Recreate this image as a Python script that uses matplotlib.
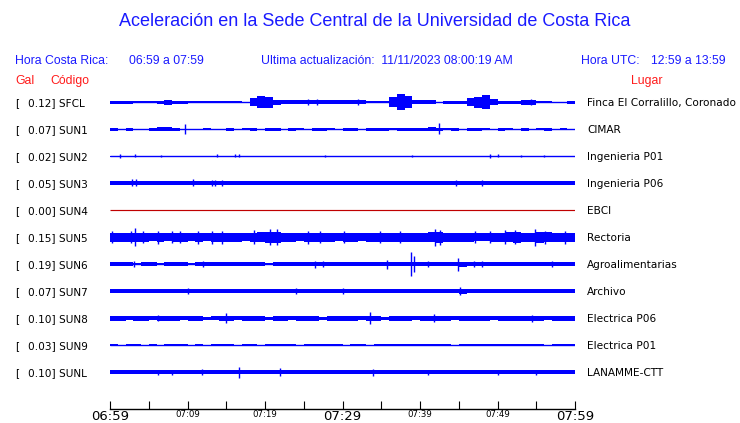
import numpy as np
import matplotlib
matplotlib.use("Agg")
import matplotlib.pyplot as plt

# ---------------- data ----------------
stations = ["SFCL", "SUN1", "SUN2", "SUN3", "SUN4", "SUN5", "SUN6", "SUN7", "SUN8", "SUN9", "SUNL"]
peak_gal = [0.12, 0.07, 0.02, 0.05, 0.00, 0.15, 0.19, 0.07, 0.10, 0.03, 0.10]
places = ["Finca El Corralillo, Coronado", "CIMAR", "Ingenieria P01", "Ingenieria P06", "EBCI",
          "Rectoria", "Agroalimentarias", "Archivo", "Electrica P06", "Electrica P01", "LANAMME-CTT"]

# minutes after 06:59 ; tick labels every 5 minutes
tick_minutes = list(range(0, 61, 5))
tick_labels = ["06:59", "", "07:09", "", "07:19", "", "07:29", "", "07:39", "", "07:49", "", "07:59"]
big_labels = ["06:59", "07:29", "07:59"]

# envelope half-amplitude per minute (pixel units)
env_SFCL = [1.5, 1.5, 1.5, 1.0, 1.2, 1.2, 1.5, 2.5, 1.5, 1.5, 1.0, 1.0, 0.8, 1.2, 1.2, 1.0, 1.2, 0.5,
            4.0, 6.0, 5.5, 2.5,
            1.8, 1.8, 1.8, 1.8, 2.2, 1.8, 1.8, 1.8, 1.8, 1.8, 1.8,
            0.8, 1.0, 0.8,
            5.0, 7.5, 6.0,
            1.8, 1.8, 1.8,
            0.5, 1.5, 1.5, 1.5,
            4.0, 5.5, 7.0, 3.0,
            1.5, 1.5, 1.5,
            2.5, 2.5,
            1.0, 1.2, 0.5, 0.5,
            1.5]
env_SUN1 = [1.5, 0.5, 1.5, 0.5, 0.5, 1.5, 2.0, 2.0, 1.5, 0.5, 0.5, 0.5, 1.0, 0.5, 0.5, 1.5, 0.5, 1.0, 1.5, 0.5,
            1.5, 1.5, 0.5, 1.5, 1.0, 0.5, 1.5, 1.5, 1.0, 0.5, 1.5, 1.5, 0.5, 1.5, 1.5, 1.5, 1.0, 1.5, 1.5, 1.5,
            1.5, 2.0, 1.5, 1.0, 1.5, 0.5, 1.5, 1.5, 1.0, 0.5, 1.5, 1.0, 0.5, 1.5, 0.5, 1.0, 1.5, 0.5, 1.0, 0.5]
env_SUN2 = [0.5] * 60
env_SUN3 = [2.0] * 60
env_SUN4 = [0.0] * 60
env_SUN5 = [4.5, 4.5, 4.5, 4.5, 4.5, 4.0, 4.5, 4.0, 4.5, 4.5, 4.0, 4.5, 4.0, 4.5, 4.5, 4.5, 4.5, 4.0, 4.5, 5.0,
            5.5, 5.5, 4.5, 4.5, 4.0, 4.5, 4.5, 4.5, 4.5, 4.0, 4.5, 4.5, 4.0, 4.5, 4.5, 4.5, 4.5, 4.5, 4.5, 4.5,
            4.5, 5.0, 5.5, 4.5, 4.5, 4.5, 4.5, 4.0, 4.0, 4.5, 4.5, 5.0, 5.5, 4.5, 4.5, 5.5, 5.0, 4.5, 4.5, 4.5]
env_SUN6 = [1.6, 1.6, 1.6, 1.0, 1.6, 1.6, 0.8, 1.6, 1.6, 1.6, 1.2, 1.6, 1.6, 1.6, 1.6, 1.6, 1.6, 1.6, 1.6, 1.6,
            1.0, 1.6, 1.6, 1.6, 1.6, 1.6, 1.6, 1.6, 1.6, 1.6, 1.6, 1.6, 1.6, 1.6, 1.6, 1.6, 2.0, 2.0, 1.6, 1.6,
            1.6, 1.6, 1.6, 1.6, 1.6, 2.5, 1.6, 1.6, 1.6, 1.6, 1.6, 1.6, 1.6, 1.6, 1.6, 1.6, 1.6, 1.6, 1.6, 1.6]
env_SUN7 = [2.0, 2.0, 2.2, 2.0, 2.0, 2.2, 2.0, 2.0, 2.0, 2.2, 2.0, 2.0, 2.2, 2.0, 2.0, 2.0, 2.2, 2.0, 2.0, 2.2,
            2.0, 2.0, 2.2, 2.0, 2.0, 2.2, 2.0, 2.0, 2.0, 2.2, 2.0, 2.0, 2.2, 2.0, 2.0, 2.0, 2.2, 2.0, 2.0, 2.2,
            2.0, 2.0, 2.2, 2.0, 2.0, 2.5, 2.0, 2.0, 2.2, 2.0, 2.0, 2.2, 2.0, 2.0, 2.0, 2.2, 2.0, 2.0, 2.2, 2.0]
env_SUN8 = [2.5, 2.5, 2.0, 2.5, 2.5, 2.0, 2.5, 2.5, 2.5, 2.0, 2.5, 2.5, 1.5, 2.0, 2.5, 2.5, 2.0, 2.5, 2.5, 2.5,
            1.5, 2.5, 2.5, 2.0, 2.5, 2.5, 2.5, 1.5, 2.5, 2.5, 2.5, 2.5, 2.0, 2.5, 2.5, 1.5, 2.5, 2.5, 2.5, 2.0,
            2.5, 2.5, 2.5, 2.5, 2.0, 2.5, 2.5, 2.5, 2.5, 2.0, 2.5, 2.5, 2.5, 2.5, 2.5, 2.5, 2.0, 2.5, 2.5, 2.5]
env_SUN9 = [1.2, 0.5, 1.2, 1.2, 0.5, 1.2, 0.5, 1.2, 1.2, 1.2, 0.5, 1.2, 0.5, 1.2, 1.2, 1.2, 0.5, 1.2, 1.2, 0.5,
            1.2, 1.2, 1.2, 1.2, 0.5, 1.2, 1.2, 1.2, 1.2, 1.2, 0.5, 1.2, 1.2, 0.5, 1.2, 1.2, 1.2, 1.2, 1.2, 1.2,
            1.2, 1.2, 1.2, 1.2, 0.5, 1.2, 1.2, 1.2, 1.2, 1.2, 1.2, 1.2, 1.2, 1.2, 1.2, 1.2, 0.5, 1.2, 1.2, 1.2]
env_SUNL = [2.0] * 60

# isolated spikes: (minute, half-amplitude in px)
spk_SFCL = [(25.5, 3.0), (26.7, 3.0), (32.0, 3.0), (54.3, 3.0)]
spk_SUN1 = [(9.7, 5.0), (42.5, 5.5)]
spk_SUN2 = [(1.3, 2.0), (3.2, 1.5), (6.6, 1.2), (13.8, 1.5), (16.1, 1.5), (16.7, 1.5), (27.7, 1.2),
            (39.0, 1.2), (49.0, 2.0), (50.0, 1.5), (53.0, 1.2), (56.0, 1.2)]
spk_SUN3 = [(2.9, 3.5), (3.3, 3.5), (10.7, 3.5), (13.2, 3.0), (13.6, 3.0), (14.5, 3.0), (44.6, 3.0), (48.0, 3.0)]
spk_SUN4 = []
spk_SUN5 = [(0.2, 6.0), (2.7, 6.0), (3.2, 9.0), (4.2, 6.0), (6.2, 6.5), (8.0, 6.0), (9.0, 6.0),
            (11.4, 6.5), (13.2, 6.5), (14.5, 6.5), (18.6, 7.0), (20.6, 8.0), (21.5, 8.0), (25.5, 6.5),
            (27.1, 6.0), (30.2, 6.0), (34.8, 6.0), (37.4, 6.0), (41.9, 8.5), (42.6, 7.5), (47.1, 6.0),
            (49.0, 6.0), (51.0, 7.0), (52.3, 7.0), (54.8, 8.5), (56.1, 6.5), (58.7, 6.5)]
spk_SUN6 = [(3.1, 3.0), (12.0, 3.0), (26.4, 3.5), (27.5, 3.0), (35.8, 4.5), (38.9, 12.0), (39.2, 8.0),
            (41.0, 3.0), (44.9, 6.5), (47.0, 3.0), (48.0, 3.0), (57.0, 3.0)]
spk_SUN7 = [(10.0, 3.0), (24.0, 3.0), (30.0, 3.0), (45.2, 4.0)]
spk_SUN8 = [(6.2, 3.0), (15.0, 5.0), (33.5, 6.0), (41.8, 4.0), (54.5, 3.5)]
spk_SUN9 = []
spk_SUNL = [(6.2, 2.5), (8.0, 2.5), (11.9, 3.0), (16.6, 5.5), (21.9, 4.0), (33.9, 3.5), (41.0, 2.5),
            (50.0, 2.5), (55.0, 2.5)]

envelopes = [env_SFCL, env_SUN1, env_SUN2, env_SUN3, env_SUN4, env_SUN5,
             env_SUN6, env_SUN7, env_SUN8, env_SUN9, env_SUNL]
spikes = [spk_SFCL, spk_SUN1, spk_SUN2, spk_SUN3, spk_SUN4, spk_SUN5,
          spk_SUN6, spk_SUN7, spk_SUN8, spk_SUN9, spk_SUNL]

# ---------------- figure ----------------
W, H = 740, 423
fig = plt.figure(figsize=(W / 100, H / 100), dpi=100)
BLUE = "#0000ff"
TBLUE = "#1a1aff"
RED = "#ff1a1a"

ax_left, ax_right = 110, 575
ax_top, ax_bot = 88, 409
ax = fig.add_axes([ax_left / W, (H - ax_bot) / H, (ax_right - ax_left) / W, (ax_bot - ax_top) / H])
ax.set_xlim(0, 60)
ax.set_ylim(ax_bot, ax_top)   # y in pixel units, downward

row0, row_step = 102, 27
edges = np.arange(0, 61)
for i, (env, spk) in enumerate(zip(envelopes, spikes)):
    yc = row0 + i * row_step
    is_flat = stations[i] == "SUN4"
    color = "#c00000" if is_flat else BLUE
    ax.plot([0, 60], [yc, yc], color=color, lw=0.85 if is_flat else 1.0, solid_capstyle="butt")
    e = np.array(env + [env[-1]], dtype=float)
    ax.fill_between(edges, yc - e, yc + e, step="post", color=color, lw=0)
    for (t, a) in spk:
        ax.vlines(t, yc - a, yc + a, color=color, lw=1.0)
    # left label
    fig.text(15 / W, 1 - (yc + 1) / H, "[", fontsize=7.6, family="DejaVu Sans", va="center", ha="left")
    fig.text(28 / W, 1 - (yc + 1) / H, f"{peak_gal[i]:.2f}] {stations[i]}", fontsize=7.6,
             family="DejaVu Sans", va="center", ha="left")
    fig.text(587 / W, 1 - (yc + 1) / H, places[i], fontsize=7.6, family="DejaVu Sans",
             va="center", ha="left")

for s in ["top", "left", "right"]:
    ax.spines[s].set_visible(False)
ax.spines["bottom"].set_linewidth(1.0)
ax.set_yticks([])
ax.set_xticks(tick_minutes)
ax.set_xticklabels(tick_labels)
ax.tick_params(axis="x", direction="in", length=5.8, width=0.8, pad=0.5)
for lab in ax.get_xticklabels():
    lab.set_family("DejaVu Sans")
    lab.set_fontsize(9.5 if lab.get_text() in big_labels else 6.2)

# header texts
hfont = dict(family="Liberation Sans", fontsize=8.85, color=TBLUE, va="center")
fig.text(375 / W, 1 - 22 / H, "Aceleración en la Sede Central de la Universidad de Costa Rica",
         family="Liberation Sans", fontsize=13, color=TBLUE, ha="center", va="center")
fig.text(15 / W, 1 - 61 / H, "Hora Costa Rica:", ha="left", **hfont)
fig.text(129 / W, 1 - 61 / H, "06:59 a 07:59", ha="left", **hfont)
fig.text(261 / W, 1 - 61 / H, "Ultima actualización:  11/11/2023 08:00:19 AM", ha="left", **hfont)
fig.text(581 / W, 1 - 61 / H, "Hora UTC:", ha="left", **hfont)
fig.text(651 / W, 1 - 61 / H, "12:59 a 13:59", ha="left", **hfont)
rfont = dict(family="Liberation Sans", fontsize=8.85, color=RED, va="center")
fig.text(15 / W, 1 - 81 / H, "Gal", ha="left", **rfont)
fig.text(50 / W, 1 - 81 / H, "Código", ha="left", **rfont)
fig.text(631 / W, 1 - 81 / H, "Lugar", ha="left", **rfont)

fig.savefig("out.png", dpi=100)
